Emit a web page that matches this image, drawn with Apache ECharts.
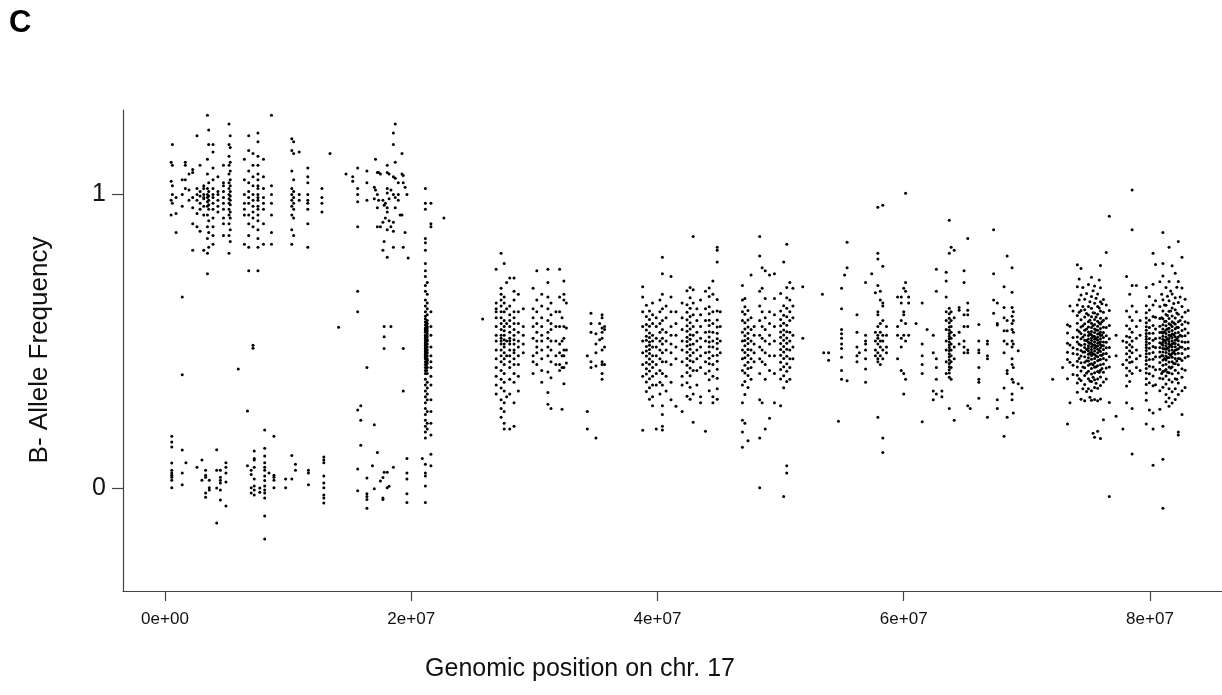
<!DOCTYPE html>
<html>
<head>
<meta charset="utf-8">
<script src="https://cdn.jsdelivr.net/npm/echarts@6/dist/echarts.min.js"></script>
<style>
  html, body { margin: 0; padding: 0; background: #fff; }
  #chart { width: 1222px; height: 695px; }
</style>
</head>
<body>
<div id="chart"></div>
<script>
// B-allele frequency along chromosome 17.
// Each row: [position in Mb, BAF of the SNPs found near that position...]

// 17p terminal segment: copy-neutral LOH, values split near 1 and near 0
const pterUpper = [
  [0.5, 1.11, 1.045, 0.98, 0.93],
  [0.6, 1.17, 1.10, 1.0, 0.97, 1.03],
  [0.9, 0.935, 0.87, 0.99],
  [1.4, 1.05, 1.0, 0.96, 0.65, 0.385],
  [1.65, 1.11, 1.10, 1.05, 1.02],
  [1.95, 1.015, 0.98, 1.07],
  [2.25, 1.085, 1.075, 0.99, 0.955, 0.9, 0.81],
  [2.6, 1.20, 1.0, 0.98, 1.02, 0.935, 0.89],
  [2.85, 1.10, 1.01, 0.995, 0.97, 0.95, 0.875],
  [3.15, 1.03, 0.99, 1.0, 0.96, 1.02, 0.93, 0.985, 0.81],
  [3.45, 1.27, 1.12, 1.07, 1.02, 1.0, 0.99, 0.975, 0.96, 0.93, 0.89, 0.85, 0.8, 0.73],
  [3.55, 1.22, 1.17, 1.04, 1.01, 0.995, 0.98, 0.965, 0.95, 0.91, 0.87, 0.82],
  [3.9, 1.17, 1.145, 1.09, 1.05, 1.02, 1.0, 0.99, 0.97, 0.95, 0.92, 0.89, 0.86, 0.83],
  [4.3, 1.06, 1.01, 0.98, 0.96, 1.0, 0.94],
  [4.75, 1.10, 1.04, 1.01, 0.99, 0.97, 0.95, 0.92, 0.9, 0.86, 1.03],
  [5.2, 1.24, 1.17, 1.13, 1.10, 1.07, 1.04, 1.02, 1.0, 0.985, 0.97, 0.95, 0.93, 0.9, 0.86, 0.8],
  [5.3, 1.2, 1.16, 1.11, 1.08, 1.05, 1.03, 1.01, 0.995, 0.98, 0.965, 0.94, 0.92, 0.88, 0.84],
  [5.95, 0.405],
  [6.45, 1.12, 1.05, 1.0, 0.97, 0.95, 0.93, 0.83],
  [6.8, 1.2, 1.15, 1.08, 1.04, 1.01, 0.99, 0.97, 0.93, 0.9, 0.86, 0.82, 0.74],
  [7.15, 1.14, 1.1, 1.06, 1.03, 1.0, 0.98, 0.96, 0.94, 0.92, 0.89, 0.486, 0.476],
  [7.55, 1.21, 1.18, 1.13, 1.1, 1.07, 1.05, 1.03, 1.02, 1.0, 0.99, 0.98, 0.96, 0.95, 0.93, 0.91, 0.88, 0.85, 0.82, 0.74],
  [8.0, 1.12, 1.06, 1.02, 0.99, 0.97, 0.95, 0.9, 0.83],
  [8.65, 1.27, 1.03, 1.0, 0.97, 0.93, 0.87, 0.83],
  [10.3, 1.19, 1.15, 1.08, 1.02, 1.0, 0.98, 0.96, 0.93, 0.88, 0.83],
  [10.45, 1.18, 1.14, 1.05, 1.01, 0.99, 0.97, 0.95, 0.92, 0.86],
  [10.9, 1.145, 1.0, 0.98],
  [11.6, 1.09, 1.06, 1.04, 1.0, 0.98, 0.97, 0.95, 0.9, 0.82],
  [12.75, 1.02, 0.99, 0.97, 0.94],
  [13.4, 1.14]
];

const pterLower = [
  [0.55, 0.176, 0.156, 0.139, 0.084, 0.06, 0.05, 0.043, 0.036, 0.026, 0.0],
  [1.4, 0.129, 0.05, 0.01],
  [1.7, 0.085],
  [2.6, 0.07],
  [3.0, 0.095, 0.026],
  [3.3, 0.06, 0.043, 0.036, -0.018, -0.032],
  [3.6, 0.026, 0.0, -0.008],
  [4.2, 0.13, 0.06, -0.001, -0.12],
  [4.5, 0.06, 0.036, 0.026, 0.016, -0.008, -0.042],
  [4.95, 0.085, 0.07, 0.05, 0.02, -0.062],
  [6.7, 0.262, 0.075],
  [7.0, 0.06, 0.045, 0.0, -0.018],
  [7.25, 0.125, 0.1, 0.095, 0.07, 0.03, 0.006, -0.008, -0.025],
  [7.7, -0.001, -0.015],
  [8.1, 0.197, 0.135, 0.108, 0.085, 0.07, 0.06, 0.04, 0.025, 0.006, -0.008, -0.018, -0.035, -0.096, -0.175],
  [8.45, 0.05],
  [8.85, 0.176, 0.043, 0.036, 0.026, 0.0],
  [9.8, 0.03, 0.0],
  [10.3, 0.11, 0.03],
  [10.6, 0.08, 0.06],
  [11.65, 0.06, 0.05, 0.01],
  [12.9, 0.105, 0.095, 0.085, 0.04, 0.016, 0.0, -0.025, -0.035, -0.052]
];

// 14-23 Mb, LOH block ending at a dense heterozygous stretch
const pericentric = [
  [14.1, 0.547],
  [14.7, 1.07],
  [15.25, 1.06, 1.045],
  [15.65, 1.09, 1.02, 1.0, 0.975, 0.89, 0.67, 0.6, 0.265, 0.064, -0.01],
  [15.9, 0.28, 0.23, 0.145],
  [16.4, 1.08, 1.04, 0.98, 0.41, 0.033, -0.02, -0.03, -0.04, -0.07],
  [16.85, 0.075],
  [17.0, 1.025, 0.985, 0.215, -0.003],
  [17.1, 1.12, 1.015],
  [17.25, 1.075, 1.0, 0.955, 0.89, 0.12],
  [17.35, 1.075, 0.98],
  [17.5, 1.07, 0.89, 0.023],
  [17.7, 0.98, 0.905, 0.81, 0.035, -0.035, -0.04],
  [17.8, 0.963, 0.84, 0.55, 0.515, 0.475, 0.053],
  [17.9, 0.97, 0.92],
  [18.05, 1.1, 1.075, 1.02, 1.005, 0.955, 0.94, 0.88, 0.786, 0.053, 0.0],
  [18.2, 1.07, 0.985, 0.91, 0.005],
  [18.35, 1.015, 0.89, 0.55],
  [18.55, 1.21, 1.17, 1.06, 1.0, 0.905, 0.875, 0.82, 0.07],
  [18.7, 1.24, 1.11, 1.055, 0.99, 0.955],
  [18.95, 1.04, 1.0, 0.98],
  [19.1, 0.93],
  [19.25, 1.14, 1.07, 0.93],
  [19.35, 1.065, 1.04, 0.82, 0.475, 0.33],
  [19.5, 1.025, 0.87],
  [19.65, 1.0, 0.1, 0.05, 0.03, -0.02, -0.05],
  [19.75, 0.783],
  [20.9, 0.1],
  [21.15, 1.02, 0.97, 0.95, 0.85, 0.835, 0.81, 0.765, 0.74, 0.72, 0.69, 0.67, 0.64, 0.62, 0.6, 0.585, 0.575, 0.565, 0.555, 0.545, 0.54, 0.535, 0.53, 0.52, 0.515, 0.51, 0.505, 0.5, 0.495, 0.49, 0.485, 0.48, 0.475, 0.47, 0.465, 0.46, 0.455, 0.45, 0.445, 0.44, 0.43, 0.42, 0.41, 0.4, 0.39, 0.37, 0.35, 0.33, 0.31, 0.29, 0.27, 0.25, 0.23, 0.21, 0.19, 0.17, 0.08, 0.05, 0.04, 0.006, -0.05],
  [21.25, 0.56, 0.55, 0.54, 0.53, 0.52, 0.51, 0.5, 0.49, 0.48, 0.47, 0.46, 0.45, 0.44, 0.43, 0.42, 0.41, 0.4],
  [21.3, 0.7, 0.66, 0.63, 0.61, 0.59, 0.57, 0.56, 0.55, 0.545, 0.535, 0.525, 0.515, 0.505, 0.5, 0.49, 0.48, 0.47, 0.46, 0.45, 0.44, 0.435, 0.425, 0.41, 0.39, 0.36, 0.34, 0.32, 0.3, 0.26, 0.22, 0.2],
  [21.6, 0.97, 0.9, 0.89, 0.6, 0.55, 0.52, 0.48, 0.45, 0.43, 0.41, 0.38, 0.35, 0.3, 0.26, 0.22, 0.18, 0.114, 0.075],
  [22.65, 0.92]
];

// 17q proximal, heterozygous SNPs around 0.5
const qProximal = [
  [25.8, 0.575],
  [26.9, 0.745, 0.63, 0.61, 0.6, 0.58, 0.55, 0.52, 0.5, 0.47, 0.44, 0.41, 0.38, 0.35, 0.32],
  [27.3, 0.8, 0.68, 0.66, 0.64, 0.62, 0.6, 0.58, 0.56, 0.54, 0.52, 0.51, 0.5, 0.49, 0.47, 0.45, 0.43, 0.4, 0.37, 0.34, 0.3, 0.27, 0.24],
  [27.55, 0.765, 0.65, 0.63, 0.6, 0.57, 0.55, 0.535, 0.52, 0.505, 0.49, 0.48, 0.46, 0.44, 0.42, 0.39, 0.36, 0.33, 0.29, 0.26, 0.22, 0.2],
  [27.75, 0.7, 0.61, 0.56, 0.5, 0.45, 0.31],
  [28.0, 0.715, 0.62, 0.59, 0.57, 0.55, 0.53, 0.51, 0.5, 0.49, 0.47, 0.45, 0.43, 0.41, 0.37, 0.32, 0.2],
  [28.35, 0.715, 0.67, 0.64, 0.6, 0.58, 0.56, 0.54, 0.52, 0.505, 0.49, 0.47, 0.46, 0.44, 0.42, 0.39, 0.36, 0.29, 0.21],
  [28.7, 0.66, 0.6, 0.56, 0.53, 0.5, 0.48, 0.45, 0.42, 0.38, 0.33],
  [29.1, 0.61, 0.55, 0.52, 0.49, 0.46],
  [29.9, 0.68, 0.61, 0.58, 0.55, 0.51, 0.45, 0.43, 0.39],
  [30.2, 0.74, 0.64, 0.6, 0.56, 0.53, 0.5, 0.48, 0.46, 0.42],
  [30.6, 0.66, 0.62, 0.58, 0.55, 0.52, 0.5, 0.47, 0.44, 0.4, 0.36],
  [31.1, 0.745, 0.7, 0.65, 0.61, 0.57, 0.53, 0.51, 0.48, 0.45, 0.395, 0.325, 0.285],
  [31.35, 0.63, 0.59, 0.56, 0.54, 0.5, 0.47, 0.43, 0.375, 0.27],
  [31.75, 0.6, 0.55, 0.5, 0.45, 0.42],
  [32.05, 0.745, 0.65, 0.6, 0.55, 0.49, 0.46, 0.42, 0.4],
  [32.25, 0.58, 0.5, 0.45, 0.41, 0.268],
  [32.4, 0.705, 0.66, 0.64, 0.55, 0.51, 0.47, 0.45, 0.41, 0.355],
  [32.6, 0.63, 0.545, 0.47, 0.425],
  [34.3, 0.26, 0.2, 0.45],
  [34.6, 0.595, 0.56, 0.53, 0.43, 0.41],
  [35.0, 0.525, 0.49, 0.46, 0.415, 0.17],
  [35.3, 0.56, 0.505],
  [35.5, 0.59, 0.58, 0.545, 0.53, 0.51, 0.47, 0.43, 0.42, 0.39, 0.37],
  [35.7, 0.55, 0.54, 0.48, 0.42]
];

// 17q middle, 38-52 Mb
const qMiddle = [
  [38.8, 0.685, 0.65, 0.6, 0.55, 0.5, 0.46, 0.42, 0.38, 0.196],
  [39.1, 0.622, 0.584, 0.557, 0.538, 0.517, 0.503, 0.482, 0.466, 0.449, 0.427, 0.406, 0.388, 0.361, 0.328],
  [39.35, 0.603, 0.574, 0.551, 0.528, 0.512, 0.497, 0.486, 0.471, 0.458, 0.439, 0.421, 0.398, 0.372, 0.341, 0.302],
  [39.6, 0.63, 0.59, 0.56, 0.52, 0.5, 0.48, 0.45, 0.43, 0.41, 0.38, 0.35, 0.31, 0.28],
  [39.9, 0.58, 0.55, 0.51, 0.48, 0.45, 0.42, 0.39, 0.35, 0.2],
  [40.2, 0.64, 0.6, 0.56, 0.53, 0.5, 0.47, 0.44, 0.4, 0.36, 0.32],
  [40.4, 0.786, 0.73, 0.66, 0.61, 0.57, 0.54, 0.51, 0.49, 0.46, 0.43, 0.39, 0.35, 0.28, 0.25, 0.21, 0.197],
  [40.7, 0.62, 0.58, 0.53, 0.5, 0.47, 0.43, 0.38, 0.33],
  [41.1, 0.72, 0.65, 0.6, 0.55, 0.52, 0.49, 0.46, 0.42, 0.36, 0.3],
  [41.5, 0.6, 0.56, 0.52, 0.48, 0.44, 0.278],
  [42.0, 0.63, 0.58, 0.54, 0.5, 0.47, 0.43, 0.38, 0.26, 0.35],
  [42.4, 0.672, 0.624, 0.598, 0.573, 0.552, 0.534, 0.513, 0.499, 0.483, 0.462, 0.441, 0.418, 0.393, 0.358, 0.312],
  [42.65, 0.683, 0.648, 0.612, 0.584, 0.563, 0.541, 0.522, 0.506, 0.488, 0.472, 0.451, 0.433, 0.408, 0.382, 0.343, 0.302],
  [42.9, 0.857, 0.675, 0.63, 0.59, 0.55, 0.52, 0.49, 0.46, 0.43, 0.4, 0.32, 0.223],
  [43.2, 0.61, 0.57, 0.53, 0.5, 0.47, 0.44, 0.4, 0.35],
  [43.5, 0.64, 0.59, 0.55, 0.51, 0.48, 0.45, 0.41, 0.31, 0.29],
  [43.9, 0.67, 0.61, 0.57, 0.53, 0.5, 0.46, 0.43, 0.39, 0.193],
  [44.2, 0.681, 0.652, 0.617, 0.593, 0.571, 0.553, 0.532, 0.514, 0.497, 0.481, 0.463, 0.442, 0.423, 0.398, 0.368, 0.331],
  [44.5, 0.705, 0.66, 0.6, 0.56, 0.53, 0.5, 0.48, 0.45, 0.42, 0.38, 0.31, 0.29],
  [44.85, 0.82, 0.81, 0.77, 0.642, 0.603, 0.572, 0.548, 0.527, 0.508, 0.493, 0.474, 0.452, 0.431, 0.404, 0.373, 0.338, 0.302],
  [45.1, 0.6, 0.55, 0.5, 0.46],
  [46.9, 0.69, 0.64, 0.6, 0.57, 0.53, 0.5, 0.47, 0.44, 0.4, 0.35, 0.29, 0.23, 0.19, 0.138],
  [47.1, 0.645, 0.617, 0.592, 0.563, 0.541, 0.518, 0.502, 0.484, 0.461, 0.443, 0.418, 0.391, 0.362, 0.318, 0.22],
  [47.35, 0.604, 0.572, 0.548, 0.527, 0.509, 0.492, 0.471, 0.452, 0.428, 0.407, 0.383, 0.342, 0.16],
  [47.6, 0.725, 0.58, 0.54, 0.5, 0.47, 0.44, 0.41, 0.37],
  [47.85, 0.55, 0.52, 0.49, 0.46, 0.43],
  [48.3, 0.857, 0.79, 0.67, 0.62, 0.57, 0.52, 0.48, 0.44, 0.39, 0.3, 0.17, 0.0],
  [48.5, 0.75, 0.68, 0.6, 0.55, 0.51, 0.47, 0.43, 0.29],
  [48.75, 0.74, 0.645, 0.58, 0.54, 0.5, 0.46, 0.42, 0.37, 0.2],
  [49.1, 0.725, 0.6, 0.56, 0.52, 0.49, 0.45, 0.4, 0.237],
  [49.5, 0.73, 0.645, 0.59, 0.55, 0.5, 0.45, 0.39, 0.29],
  [50.0, 0.662, 0.603, 0.574, 0.552, 0.531, 0.513, 0.492, 0.471, 0.452, 0.428, 0.403, 0.371, 0.28],
  [50.25, 0.77, 0.621, 0.588, 0.561, 0.538, 0.521, 0.503, 0.482, 0.463, 0.441, 0.413, 0.382, 0.341, -0.03],
  [50.5, 0.83, 0.683, 0.648, 0.612, 0.583, 0.554, 0.532, 0.511, 0.493, 0.472, 0.448, 0.423, 0.397, 0.362, 0.075, 0.05],
  [50.75, 0.7, 0.64, 0.6, 0.57, 0.53, 0.5, 0.47, 0.44, 0.41, 0.37],
  [51.0, 0.68, 0.62, 0.58, 0.52, 0.48, 0.44],
  [51.8, 0.685, 0.51]
];

// 17q distal, 53-70 Mb
const qDistal = [
  [53.4, 0.66],
  [53.5, 0.46],
  [53.9, 0.46, 0.435],
  [54.7, 0.227],
  [54.95, 0.68, 0.61, 0.54, 0.525, 0.51, 0.49, 0.475, 0.445, 0.4, 0.37],
  [55.2, 0.725],
  [55.4, 0.837, 0.75, 0.365],
  [56.2, 0.59, 0.53, 0.48, 0.45, 0.43],
  [56.4, 0.46],
  [56.9, 0.7, 0.52, 0.5, 0.49, 0.47, 0.44, 0.405, 0.36],
  [57.4, 0.73],
  [57.7, 0.665, 0.53, 0.5, 0.47, 0.45],
  [57.9, 0.956, 0.8, 0.78, 0.69, 0.6, 0.59, 0.55, 0.52, 0.51, 0.49, 0.46, 0.44, 0.43, 0.24],
  [58.1, 0.67, 0.64, 0.56, 0.53, 0.5, 0.48, 0.45, 0.42],
  [58.3, 0.963, 0.755, 0.63, 0.62, 0.57, 0.52, 0.5, 0.47, 0.44, 0.17, 0.12],
  [58.6, 0.55, 0.52, 0.48, 0.46],
  [59.5, 0.65, 0.55, 0.52, 0.44],
  [59.8, 0.65, 0.63, 0.57, 0.51, 0.48, 0.4],
  [60.0, 0.68, 0.6, 0.59, 0.52, 0.39, 0.32],
  [60.15, 1.004, 0.7, 0.67, 0.56, 0.5, 0.37],
  [60.4, 0.65, 0.63, 0.52],
  [61.0, 0.56],
  [61.5, 0.63, 0.49, 0.45, 0.42, 0.39, 0.225],
  [61.9, 0.54],
  [62.4, 0.52, 0.46, 0.3, 0.33],
  [62.65, 0.67, 0.745, 0.44, 0.41, 0.37, 0.32],
  [63.1, 0.31, 0.33],
  [63.45, 0.735, 0.705, 0.65, 0.6, 0.57, 0.54, 0.5, 0.47, 0.43, 0.39],
  [63.7, 0.912, 0.8, 0.612, 0.593, 0.578, 0.563, 0.548, 0.537, 0.526, 0.517, 0.508, 0.497, 0.487, 0.478, 0.468, 0.457, 0.447, 0.436, 0.424, 0.413, 0.402, 0.391, 0.377, 0.27],
  [63.85, 0.82, 0.6, 0.57, 0.55, 0.53, 0.51, 0.49, 0.47, 0.45, 0.43, 0.41, 0.37],
  [64.1, 0.81, 0.58, 0.52, 0.48, 0.44, 0.23],
  [64.5, 0.615, 0.605, 0.53, 0.49],
  [64.9, 0.74, 0.7, 0.59, 0.55, 0.5, 0.48, 0.46],
  [65.2, 0.85, 0.63, 0.605, 0.59, 0.55, 0.47, 0.46, 0.28],
  [65.4, 0.27],
  [66.1, 0.557, 0.5, 0.47, 0.46, 0.41, 0.37, 0.36, 0.305],
  [66.8, 0.5, 0.49, 0.45, 0.44, 0.24],
  [67.3, 0.88, 0.73, 0.64, 0.595],
  [67.6, 0.63, 0.56, 0.555, 0.3, 0.27],
  [68.15, 0.685, 0.615, 0.58, 0.535, 0.5, 0.46, 0.34, 0.176],
  [68.4, 0.79, 0.57, 0.535, 0.49, 0.4, 0.39, 0.24],
  [68.8, 0.75, 0.667, 0.615, 0.585, 0.56, 0.54, 0.5, 0.48, 0.44, 0.42, 0.37, 0.32, 0.3],
  [68.9, 0.6, 0.57, 0.53, 0.49, 0.41, 0.36, 0.255],
  [69.3, 0.467, 0.355],
  [69.6, 0.34]
];

// 17q terminal, 72-84 Mb, densest SNP coverage
const qter = [
  [72.1, 0.37],
  [72.9, 0.41],
  [73.3, 0.556, 0.528, 0.493, 0.462, 0.437, 0.372, 0.217],
  [73.5, 0.62, 0.551, 0.487, 0.428, 0.29],
  [73.75, 0.603, 0.512, 0.477, 0.458, 0.418, 0.386],
  [74.1, 0.76, 0.685, 0.623, 0.587, 0.561, 0.538, 0.514, 0.497, 0.472, 0.455, 0.431, 0.412, 0.384, 0.357, 0.326],
  [74.25, 0.712, 0.641, 0.598, 0.533, 0.489, 0.441, 0.372],
  [74.4, 0.748, 0.657, 0.604, 0.573, 0.548, 0.526, 0.508, 0.486, 0.468, 0.449, 0.426, 0.398, 0.366, 0.302],
  [74.55, 0.683, 0.618, 0.552, 0.514, 0.463, 0.412, 0.338],
  [74.7, 0.643, 0.607, 0.582, 0.559, 0.537, 0.521, 0.503, 0.489, 0.478, 0.463, 0.447, 0.428, 0.409, 0.383, 0.352, 0.297],
  [74.85, 0.662, 0.594, 0.541, 0.502, 0.471, 0.433, 0.391, 0.328],
  [75.0, 0.693, 0.618, 0.589, 0.566, 0.548, 0.531, 0.519, 0.507, 0.496, 0.484, 0.476, 0.466, 0.455, 0.443, 0.432, 0.418, 0.397, 0.372, 0.338],
  [75.12, 0.634, 0.571, 0.524, 0.493, 0.458, 0.421, 0.364, 0.309],
  [75.25, 0.718, 0.652, 0.612, 0.583, 0.561, 0.546, 0.533, 0.522, 0.511, 0.502, 0.492, 0.481, 0.471, 0.462, 0.451, 0.438, 0.423, 0.407, 0.388, 0.362, 0.331, 0.298],
  [75.38, 0.672, 0.597, 0.553, 0.517, 0.486, 0.457, 0.419, 0.377, 0.186],
  [75.5, 0.688, 0.629, 0.596, 0.574, 0.557, 0.541, 0.529, 0.516, 0.506, 0.497, 0.487, 0.476, 0.466, 0.454, 0.441, 0.427, 0.411, 0.392, 0.368, 0.342, 0.301, 0.172],
  [75.62, 0.646, 0.582, 0.538, 0.509, 0.482, 0.449, 0.413, 0.356],
  [75.75, 0.661, 0.618, 0.592, 0.568, 0.551, 0.537, 0.524, 0.513, 0.503, 0.493, 0.483, 0.472, 0.46, 0.447, 0.433, 0.416, 0.396, 0.371, 0.339, 0.297, 0.193],
  [75.88, 0.708, 0.613, 0.562, 0.526, 0.494, 0.468, 0.436, 0.394],
  [75.98, 0.758, 0.682, 0.634, 0.603, 0.578, 0.558, 0.543, 0.531, 0.519, 0.508, 0.498, 0.488, 0.477, 0.465, 0.452, 0.437, 0.419, 0.401, 0.378, 0.349, 0.303, 0.168],
  [76.1, 0.627, 0.566, 0.521, 0.485, 0.452, 0.407],
  [76.22, 0.642, 0.598, 0.571, 0.547, 0.529, 0.512, 0.497, 0.484, 0.471, 0.457, 0.441, 0.422, 0.394, 0.361, 0.232],
  [76.45, 0.802, 0.623, 0.578, 0.546, 0.518, 0.496, 0.477, 0.458, 0.436, 0.408, 0.371],
  [76.7, 0.926, 0.604, 0.553, 0.508, 0.478, 0.447, 0.412, 0.291, -0.03],
  [77.25, 0.52, 0.45, 0.244],
  [77.8, 0.2, 0.5, 0.42],
  [78.1, 0.72, 0.603, 0.552, 0.517, 0.496, 0.478, 0.457, 0.436, 0.408, 0.383, 0.347, 0.29],
  [78.35, 0.66, 0.582, 0.541, 0.513, 0.488, 0.467, 0.446, 0.427, 0.398, 0.362],
  [78.55, 1.015, 0.88, 0.69, 0.62, 0.57, 0.53, 0.5, 0.48, 0.46, 0.43, 0.39, 0.27, 0.115],
  [78.9, 0.69, 0.6, 0.55, 0.51, 0.47, 0.44, 0.41],
  [79.2, 0.57, 0.52, 0.45, 0.4],
  [79.7, 0.683, 0.621, 0.597, 0.579, 0.563, 0.549, 0.537, 0.526, 0.516, 0.506, 0.497, 0.488, 0.478, 0.468, 0.457, 0.446, 0.434, 0.421, 0.407, 0.391, 0.372, 0.352, 0.323, 0.298, 0.217],
  [79.95, 0.652, 0.606, 0.571, 0.546, 0.527, 0.509, 0.493, 0.476, 0.458, 0.437, 0.414, 0.389, 0.358, 0.265],
  [80.25, 0.8, 0.694, 0.623, 0.584, 0.553, 0.527, 0.503, 0.482, 0.461, 0.438, 0.412, 0.381, 0.348, 0.255, 0.2, 0.077],
  [80.45, 0.761, 0.638, 0.581, 0.541, 0.509, 0.478, 0.447, 0.402, 0.351],
  [80.8, 0.702, 0.618, 0.577, 0.551, 0.529, 0.511, 0.494, 0.478, 0.463, 0.446, 0.427, 0.404, 0.373, 0.331, 0.268],
  [80.95, 0.66, 0.58, 0.53, 0.49, 0.45, 0.39],
  [81.05, 0.87, 0.765, 0.722, 0.641, 0.603, 0.576, 0.556, 0.541, 0.528, 0.517, 0.506, 0.496, 0.486, 0.475, 0.463, 0.45, 0.436, 0.418, 0.396, 0.372, 0.343, 0.21, 0.097, -0.07],
  [81.18, 0.623, 0.567, 0.532, 0.502, 0.474, 0.441, 0.398],
  [81.3, 0.683, 0.622, 0.591, 0.568, 0.552, 0.538, 0.526, 0.514, 0.503, 0.493, 0.483, 0.472, 0.461, 0.449, 0.436, 0.421, 0.403, 0.381, 0.354, 0.318, 0.293],
  [81.42, 0.653, 0.587, 0.541, 0.507, 0.476, 0.443, 0.394],
  [81.55, 0.82, 0.703, 0.638, 0.602, 0.577, 0.559, 0.544, 0.532, 0.52, 0.509, 0.499, 0.489, 0.479, 0.468, 0.457, 0.444, 0.429, 0.412, 0.392, 0.368, 0.338, 0.306, 0.278],
  [81.68, 0.671, 0.603, 0.556, 0.518, 0.486, 0.452, 0.408],
  [81.8, 0.757, 0.661, 0.613, 0.586, 0.566, 0.55, 0.536, 0.524, 0.512, 0.501, 0.491, 0.481, 0.47, 0.458, 0.445, 0.43, 0.412, 0.389, 0.361, 0.327, 0.289],
  [81.93, 0.628, 0.562, 0.522, 0.493, 0.463, 0.424],
  [82.05, 0.731, 0.648, 0.607, 0.579, 0.558, 0.542, 0.528, 0.515, 0.503, 0.492, 0.481, 0.469, 0.456, 0.441, 0.423, 0.401, 0.372, 0.338, 0.301],
  [82.18, 0.684, 0.596, 0.547, 0.508, 0.471, 0.432, 0.37],
  [82.3, 0.84, 0.703, 0.632, 0.592, 0.566, 0.546, 0.529, 0.514, 0.501, 0.488, 0.474, 0.459, 0.441, 0.419, 0.391, 0.357, 0.318, 0.19, 0.18],
  [82.45, 0.65, 0.57, 0.52, 0.48, 0.44],
  [82.6, 0.786, 0.681, 0.618, 0.582, 0.557, 0.536, 0.517, 0.498, 0.479, 0.458, 0.434, 0.406, 0.377, 0.331, 0.25],
  [82.85, 0.643, 0.598, 0.566, 0.541, 0.518, 0.496, 0.472, 0.443, 0.401, 0.342],
  [83.1, 0.604, 0.562, 0.528, 0.497, 0.476, 0.448]
];

// Axis ticks
const xTickValues = [0, 2e7, 4e7, 6e7, 8e7];
const xTickLabels = ['0e+00', '2e+07', '4e+07', '6e+07', '8e+07'];
const yTickValues = [0, 1];
const yTickLabels = ['0', '1'];

const FONT = '"Liberation Sans", Arial, Helvetica, sans-serif';

// Expand [Mb, baf, baf, ...] rows into [bp, baf] points
function toPoints(rows) {
  const pts = [];
  rows.forEach(function (row) {
    for (let i = 1; i < row.length; i++) pts.push([row[0] * 1e6, row[i]]);
  });
  return pts;
}

const points = [].concat(
  toPoints(pterUpper), toPoints(pterLower), toPoints(pericentric),
  toPoints(qProximal), toPoints(qMiddle), toPoints(qDistal), toPoints(qter)
);

const chart = echarts.init(document.getElementById('chart'), null, { renderer: 'canvas' });

chart.setOption({
  animation: false,
  backgroundColor: '#ffffff',
  grid: { left: 123, right: 0, top: 110, bottom: 104, containLabel: false },
  xAxis: {
    type: 'value',
    min: -3.41e6,
    max: 8.585e7,
    splitLine: { show: false },
    axisLine: { show: true, onZero: false, lineStyle: { color: '#444', width: 1.2 } },
    axisTick: {
      show: true, inside: false, length: 10,
      customValues: xTickValues,
      lineStyle: { color: '#444', width: 1.2 }
    },
    axisLabel: {
      show: true,
      customValues: xTickValues,
      margin: 20,
      color: '#111',
      fontFamily: FONT,
      fontSize: 17,
      formatter: function (v) {
        const i = xTickValues.indexOf(v);
        return i >= 0 ? xTickLabels[i] : '';
      }
    }
  },
  yAxis: {
    type: 'value',
    min: -0.352,
    max: 1.288,
    splitLine: { show: false },
    axisLine: { show: true, onZero: false, lineStyle: { color: '#444', width: 1.2 } },
    axisTick: {
      show: true, inside: false, length: 11,
      customValues: yTickValues,
      lineStyle: { color: '#444', width: 1.2 }
    },
    axisLabel: {
      show: true,
      customValues: yTickValues,
      margin: 17,
      color: '#111',
      fontFamily: FONT,
      fontSize: 25,
      formatter: function (v) {
        const i = yTickValues.indexOf(v);
        return i >= 0 ? yTickLabels[i] : '';
      }
    }
  },
  series: [{
    type: 'scatter',
    data: points,
    symbol: 'circle',
    symbolSize: 3,
    itemStyle: { color: '#000', opacity: 1 },
    silent: true,
    large: false
  }],
  graphic: [
    {
      type: 'text', left: 9, top: 8,
      style: { text: 'C', fill: '#000', font: 'bold 31px ' + FONT }
    },
    {
      type: 'text', x: 40, y: 350, rotation: Math.PI / 2,
      style: {
        text: 'B- Allele Frequency', fill: '#111', font: '26px ' + FONT,
        align: 'center', verticalAlign: 'middle'
      }
    },
    {
      type: 'text', x: 580, y: 669,
      style: {
        text: 'Genomic position on chr. 17', fill: '#111', font: '25px ' + FONT,
        align: 'center', verticalAlign: 'middle'
      }
    }
  ]
});
</script>
</body>
</html>
